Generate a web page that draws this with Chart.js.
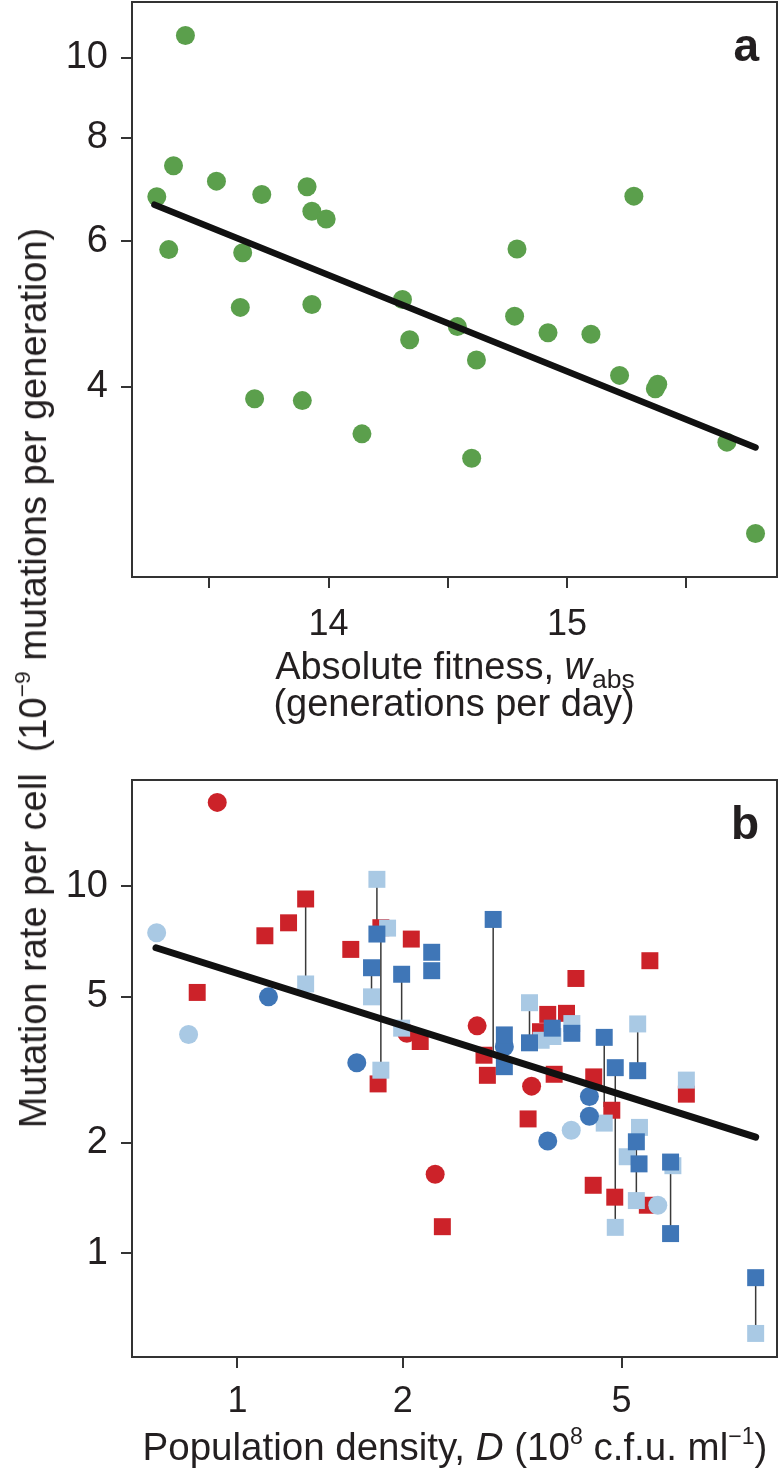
<!DOCTYPE html>
<html>
<head>
<meta charset="utf-8">
<script src="https://cdn.jsdelivr.net/npm/chart.js@4.4.0/dist/chart.umd.min.js"></script>
<style>
  body { margin: 0; background: #fff; }
  #wrap { position: relative; width: 781px; height: 1474px; font-family: "Liberation Sans", Arial, sans-serif; color: #231f20; }
  canvas { position: absolute; left: 0; }
  .lbl { position: absolute; white-space: nowrap; line-height: 1; }
  .lbl sup { font-size: 0.6em; position: relative; top: -0.15em; vertical-align: top; }
  .lbl sub { font-size: 0.7em; position: relative; top: 0.33em; vertical-align: baseline; }
  .letter { font-weight: bold; font-size: 46px; }
</style>
</head>
<body>
<div id="wrap">
  <canvas id="chartA" width="781" height="760" style="top:0"></canvas>
  <canvas id="chartB" width="781" height="714" style="top:760px"></canvas>

  <div class="lbl" id="yTitle" style="left:33px; top:678px; font-size:38px; transform: translate(-50%,-50%) rotate(-90deg);">Mutation rate per cell&nbsp;&nbsp;(10<sup>−9</sup> mutations per generation)</div>
  <div class="lbl" style="left:455px; top:647px; font-size:38px; transform: translateX(-50%);">Absolute fitness, <i>w</i><sub>abs</sub></div>
  <div class="lbl" style="left:454px; top:684px; font-size:38px; transform: translateX(-50%);">(generations per day)</div>
  <div class="lbl" style="left:455px; top:1428px; font-size:38.5px; transform: translateX(-50%);">Population density, <i>D</i> (10<sup>8</sup> c.f.u. ml<sup>−1</sup>)</div>
  <div class="lbl letter" style="right:22px; top:22px;">a</div>
  <div class="lbl letter" style="right:22px; top:800px;">b</div>
</div>

<script>
// ---- panel a: absolute fitness vs mutation rate ----
const wAbs = [13.28, 13.33, 13.35, 13.40, 13.53, 13.63, 13.64, 13.69, 13.72, 13.89,
              13.91, 13.93, 13.93, 13.99, 14.14, 14.31, 14.34, 14.54, 14.60, 14.62,
              14.78, 14.79, 14.92, 15.10, 15.22, 15.28, 15.37, 15.38, 15.67, 15.79];
const muA = [6.79, 5.86, 7.40, 10.63, 7.09, 4.99, 5.81, 3.87, 6.83, 3.85,
             6.98, 6.52, 5.03, 6.38, 3.51, 5.10, 4.56, 4.73, 3.28, 4.31,
             4.87, 5.87, 4.65, 4.63, 4.13, 6.80, 3.98, 4.03, 3.43, 2.66];
const fitLineA = [[13.27, 6.64], [15.79, 3.38]];
const ticksAX = [13.5, 14, 14.5, 15, 15.5];
const ticksAY = [4, 6, 8, 10];

// ---- panel b: population density vs mutation rate ----
const redCircles = [[0.919, 16.9], [2.034, 3.97], [2.73, 4.16], [3.43, 2.85], [2.29, 1.64]];
const redSquares = [[0.845, 5.13], [1.122, 7.32], [1.239, 7.94], [1.331, 9.22], [1.608, 6.72],
                    [1.824, 7.70], [1.803, 2.89], [2.072, 7.17], [2.151, 3.77], [2.81, 3.46],
                    [2.85, 3.05], [3.38, 2.32], [3.77, 3.07], [3.67, 4.47], [3.97, 4.50],
                    [3.56, 4.01], [4.13, 5.60], [5.63, 6.26], [4.45, 3.02], [4.80, 2.45],
                    [6.56, 2.71], [4.44, 1.53], [4.86, 1.42], [5.57, 1.35], [2.36, 1.18]];
const darkCircles = [[1.139, 4.99], [1.649, 3.30], [3.06, 3.65], [4.37, 2.67], [4.37, 2.36], [3.67, 2.02]];
const darkSquares = [[1.794, 7.40], [1.754, 5.99], [1.990, 5.75], [2.257, 6.60], [2.257, 5.88],
                     [2.92, 8.11], [3.06, 3.93], [3.06, 3.22], [3.40, 3.74], [3.74, 4.10],
                     [4.06, 3.97], [4.65, 3.87], [4.87, 3.20], [5.35, 3.14], [5.32, 2.01],
                     [5.38, 1.75], [6.14, 1.77], [6.14, 1.13], [8.77, 0.857]];
const lightCircles = [[0.713, 7.46], [0.815, 3.94], [4.05, 2.16], [5.82, 1.35]];
const lightSquares = [[1.331, 5.41], [1.794, 10.43], [1.876, 7.68], [1.824, 3.15], [1.754, 4.99],
                      [1.990, 4.10], [3.40, 4.81], [3.75, 3.89], [3.57, 3.80], [4.06, 4.22],
                      [5.35, 4.21], [6.56, 2.96], [4.65, 2.26], [5.39, 2.20], [5.12, 1.83],
                      [5.32, 1.39], [4.87, 1.175], [6.20, 1.73], [8.77, 0.604]];
// vertical links between paired measurements: [x, yTop, yBottom]
const links = [[1.331, 9.22, 5.41], [1.794, 10.43, 7.40], [1.824, 7.70, 3.15], [1.754, 5.99, 4.99],
               [1.990, 5.75, 4.10], [2.92, 8.11, 3.50], [3.40, 4.81, 3.74], [4.65, 3.87, 2.50],
               [4.87, 3.20, 1.175], [5.35, 4.21, 3.14], [5.32, 2.01, 1.39], [6.14, 1.77, 1.13],
               [8.77, 0.857, 0.604]];
const fitLineB = [[0.711, 6.79], [8.77, 2.07]];
const ticksBX = [1, 2, 5];
const ticksBY = [1, 2, 5, 10];

const GREEN = '#5b9f4c', RED = '#cc2229', DARK = '#3f76b7', LIGHT = '#a9c9e4', INK = '#333';
const yFont = { family: '"Liberation Sans", Arial, sans-serif', size: 38 };
const xFont = { family: '"Liberation Sans", Arial, sans-serif', size: 36 };

const frame = {
  id: 'frame',
  afterDraw(chart) {
    const { ctx, chartArea: a } = chart;
    ctx.save();
    ctx.strokeStyle = INK;
    ctx.lineWidth = 2;
    ctx.strokeRect(a.left, a.top, a.right - a.left, a.bottom - a.top);
    ctx.restore();
  }
};

function axis(type, min, max, tickValues, opts) {
  return {
    type: type,
    min: min,
    max: max,
    bounds: 'data', // keep exact min/max, no rounding to tick values
    afterBuildTicks: s => { s.ticks = tickValues.map(v => ({ value: v })); },
    afterFit: s => {
      if (opts.width) s.width = opts.width;
      if (opts.height) s.height = opts.height;
      s.paddingTop = 0; s.paddingBottom = 0; s.paddingLeft = 0; s.paddingRight = 0;
    },
    border: { display: false },
    grid: { drawOnChartArea: false, drawTicks: true, tickLength: 11, color: INK, tickColor: INK, lineWidth: 2, tickWidth: 2 },
    ticks: {
      font: opts.font,
      color: '#231f20',
      padding: opts.pad,
      autoSkip: false,
      maxRotation: 0,
      callback: v => (opts.skip && !Number.isInteger(v)) ? '' : String(v)
    }
  };
}

const pts = arr => arr.map(p => ({ x: p[0], y: p[1] }));

function scatter(arr, color, style, r) {
  return { type: 'scatter', data: pts(arr), backgroundColor: color, borderWidth: 0,
           pointStyle: style, pointRadius: r, pointHoverRadius: r, order: 5 };
}

function fitLine(arr, w) {
  return { type: 'line', data: pts(arr), borderColor: '#111', borderWidth: w, pointRadius: 0,
           borderCapStyle: 'round', fill: false, order: 0 };
}

const common = {
  responsive: false,
  animation: false,
  events: [],
  plugins: { legend: { display: false }, tooltip: { enabled: false } }
};

new Chart(document.getElementById('chartA'), {
  type: 'scatter',
  data: {
    datasets: [
      fitLine(fitLineA, 6.5),
      { type: 'scatter', data: wAbs.map((w, i) => ({ x: w, y: muA[i] })), backgroundColor: GREEN,
        borderWidth: 0, pointRadius: 9.5, pointHoverRadius: 9.5, order: 5 }
    ]
  },
  options: Object.assign({}, common, {
    layout: { autoPadding: false, padding: { top: 2, right: 4, left: 0, bottom: 0 } },
    scales: {
      x: axis('linear', 13.176, 15.88, ticksAX, { height: 183, font: xFont, pad: 15, skip: true }),
      y: axis('logarithmic', 2.357, 11.67, ticksAY, { width: 132, font: yFont, pad: 13 })
    }
  }),
  plugins: [frame]
});

const linkSets = links.map(l => ({
  type: 'line', data: [{ x: l[0], y: l[1] }, { x: l[0], y: l[2] }],
  borderColor: '#3a3a3a', borderWidth: 1.5, pointRadius: 0, fill: false, order: 9
}));

new Chart(document.getElementById('chartB'), {
  type: 'scatter',
  data: {
    datasets: [
      fitLine(fitLineB, 7),
      ...linkSets,
      scatter(darkSquares, DARK, 'rect', 12),
      scatter(darkCircles, DARK, 'circle', 9.5),
      scatter(lightSquares, LIGHT, 'rect', 12),
      scatter(lightCircles, LIGHT, 'circle', 9.5),
      scatter(redSquares, RED, 'rect', 12),
      scatter(redCircles, RED, 'circle', 9.5)
    ]
  },
  options: Object.assign({}, common, {
    layout: { autoPadding: false, padding: { top: 20, right: 4, left: 0, bottom: 0 } },
    scales: {
      x: axis('logarithmic', 0.643, 9.59, ticksBX, { height: 117, font: xFont, pad: 12 }),
      y: axis('logarithmic', 0.521, 19.45, ticksBY, { width: 132, font: yFont, pad: 13 })
    }
  }),
  plugins: [frame]
});
</script>
</body>
</html>
